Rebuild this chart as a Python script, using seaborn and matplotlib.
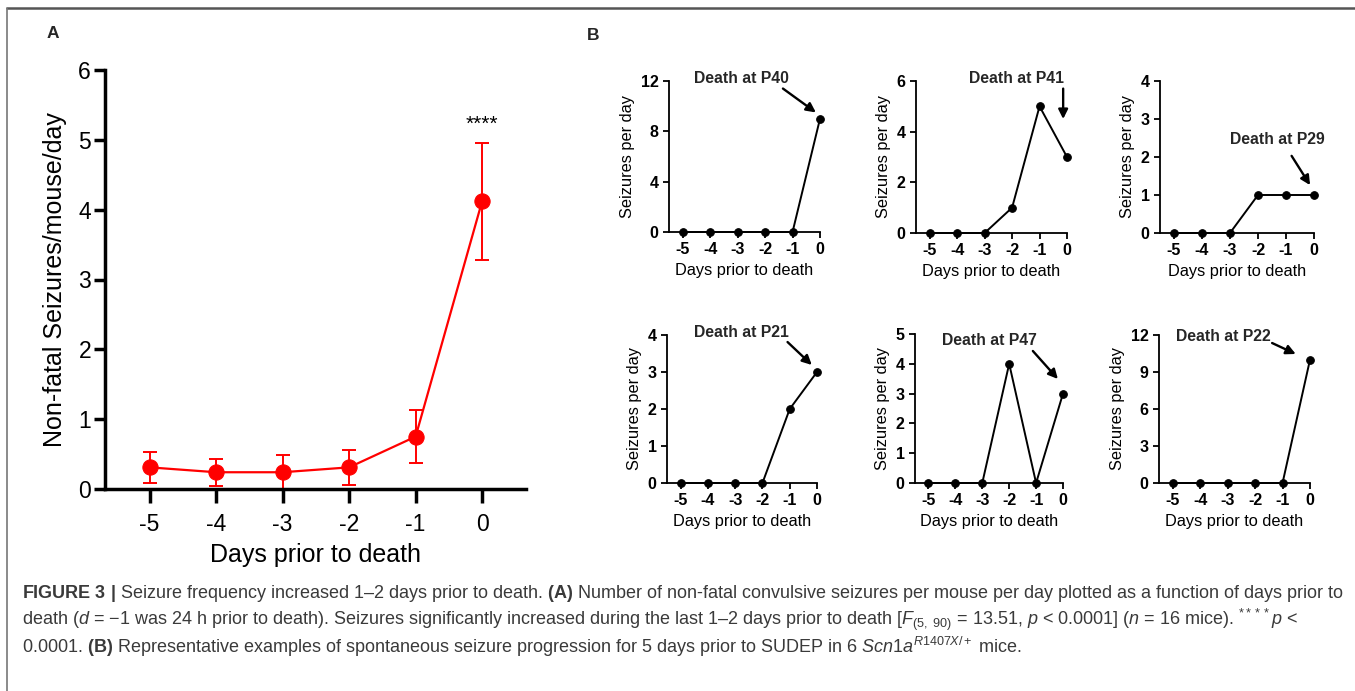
import matplotlib
matplotlib.use("Agg")
import matplotlib.pyplot as plt
from matplotlib.lines import Line2D
import seaborn as sns
import pandas as pd

# ---------------- data ----------------
days = [-5, -4, -3, -2, -1, 0]
day_labels = ["-5", "-4", "-3", "-2", "-1", "0"]

mean_seizures = [0.31, 0.24, 0.24, 0.31, 0.75, 4.12]
sem_seizures = [0.22, 0.19, 0.25, 0.25, 0.38, 0.84]
yticks_a = [0, 1, 2, 3, 4, 5, 6]

mice_names = ["P40", "P41", "P29", "P21", "P47", "P22"]
mouse_P40 = [0, 0, 0, 0, 0, 9]
mouse_P41 = [0, 0, 0, 1, 5, 3]
mouse_P29 = [0, 0, 0, 1, 1, 1]
mouse_P21 = [0, 0, 0, 0, 2, 3]
mouse_P47 = [0, 0, 0, 4, 0, 3]
mouse_P22 = [0, 0, 0, 0, 0, 10]
mouse_series = [mouse_P40, mouse_P41, mouse_P29, mouse_P21, mouse_P47, mouse_P22]
mouse_yticks = [[0, 4, 8, 12], [0, 2, 4, 6], [0, 1, 2, 3, 4],
                [0, 1, 2, 3, 4], [0, 1, 2, 3, 4, 5], [0, 3, 6, 9, 12]]

# ---------------- style ----------------
sns.set_theme(style="ticks")
plt.rcParams["font.family"] = ["Liberation Sans", "DejaVu Sans"]
plt.rcParams["mathtext.fontset"] = "custom"
plt.rcParams["mathtext.rm"] = "Liberation Sans"
plt.rcParams["mathtext.it"] = "Liberation Sans:italic"
plt.rcParams["mathtext.bf"] = "Liberation Sans:bold"
plt.rcParams["axes.unicode_minus"] = False

W, H = 1355, 691
fig = plt.figure(figsize=(W / 100, H / 100), dpi=100)
fig.patch.set_facecolor("white")


def px_axes(l, t, r, b):
    return fig.add_axes([l / W, 1 - b / H, (r - l) / W, (b - t) / H])


# ---------------- panel A ----------------
axA = px_axes(105, 70, 526, 489)
dfA = pd.DataFrame({"day": days, "mean": mean_seizures})
sns.lineplot(data=dfA, x="day", y="mean", ax=axA, color="#ff0000", lw=1.6,
             marker="o", markersize=11, markeredgecolor="#ff0000", zorder=3)
axA.errorbar(days, mean_seizures, yerr=sem_seizures, fmt="none", ecolor="#ff0000",
             elinewidth=1.4, capsize=5, capthick=1.4, zorder=2)
axA.set_xlim(-5.67, 0.66)
axA.set_ylim(0, 6)
axA.set_xticks(days)
axA.set_xticklabels(day_labels)
axA.set_yticks(yticks_a)
axA.tick_params(axis="both", labelsize=16.5, width=2.5, length=8, color="black", labelcolor="black")
axA.tick_params(axis="x", pad=7, length=10)
axA.tick_params(axis="y", pad=2)
for s in ["top", "right"]:
    axA.spines[s].set_visible(False)
for s in ["left", "bottom"]:
    axA.spines[s].set_linewidth(2.5)
    axA.spines[s].set_color("black")
axA.set_xlabel("Days prior to death", fontsize=18, labelpad=5, color="black")
axA.set_ylabel("Non-fatal Seizures/mouse/day", fontsize=18, labelpad=8, color="black")
axA.text(days[-1], 5.22, "****", ha="center", va="center", fontsize=15, color="black")

fig.text(53 / W, 1 - 33 / H, "A", fontsize=12.5, fontweight="bold", ha="center", va="center")
fig.text(593 / W, 1 - 35 / H, "B", fontsize=12.5, fontweight="bold", ha="center", va="center")

# ---------------- panel B ----------------
boxes = [(669, 81, 820, 232), (916, 81, 1067, 233), (1160, 81, 1314, 233),
         (667, 335, 817, 483), (915, 334, 1063, 483), (1159, 335, 1310, 483)]
text_pos = [(-2.85, 12.2), (-1.85, 6.1), (-1.3, 2.47), (-2.76, 4.08), (-2.72, 4.77), (-3.17, 11.84)]
arrows = [((-1.35, 11.4), (-0.15, 9.5)), ((-0.14, 5.7), (-0.14, 4.5)), ((-0.8, 2.03), (-0.14, 1.26)),
          ((-1.08, 3.81), (-0.19, 3.19)), ((-1.12, 4.43), (-0.19, 3.49)), ((-1.38, 11.35), (-0.52, 10.46))]

for i, box in enumerate(boxes):
    ax = px_axes(*box)
    df = pd.DataFrame({"day": days, "n": mouse_series[i]})
    sns.lineplot(data=df, x="day", y="n", ax=ax, color="black", lw=1.4,
                 marker="o", markersize=5.5, markeredgecolor="black", zorder=3, clip_on=False)
    yt = mouse_yticks[i]
    ax.set_xlim(-5.5, 0)
    ax.set_ylim(0, yt[-1])
    ax.set_xticks(days)
    ax.set_xticklabels(day_labels)
    ax.set_yticks(yt)
    ax.set_yticklabels([str(v) for v in yt])
    ax.tick_params(axis="both", labelsize=11.5, width=1.3, length=4.5, color="black",
                   labelcolor="black", pad=3)
    for lab in ax.get_xticklabels() + ax.get_yticklabels():
        lab.set_fontweight("bold")
    for s in ["top", "right"]:
        ax.spines[s].set_visible(False)
    for s in ["left", "bottom"]:
        ax.spines[s].set_linewidth(1.3)
        ax.spines[s].set_color("black")
    ax.set_xlabel("Days prior to death", fontsize=11.8, labelpad=4, color="black")
    ax.set_ylabel("Seizures per day", fontsize=11.8, labelpad=4, color="black")
    tx, ty = text_pos[i]
    ax.text(tx, ty, "Death at " + mice_names[i], fontsize=11.3, fontweight="bold",
            ha="center", va="center", clip_on=False)
    (sx, sy), (ex, ey) = arrows[i]
    ax.annotate("", xy=(ex, ey), xytext=(sx, sy), annotation_clip=False,
                arrowprops=dict(arrowstyle="-|>", color="black", lw=1.7, mutation_scale=14,
                                shrinkA=0, shrinkB=0))

# ---------------- frame ----------------
fig.add_artist(Line2D([7 / W, 1], [1 - 8 / H, 1 - 8 / H], transform=fig.transFigure,
                      color="#555555", lw=1.8))
fig.add_artist(Line2D([7 / W, 7 / W], [0, 1 - 8 / H], transform=fig.transFigure,
                      color="#777777", lw=1.2))

# ---------------- caption ----------------
cap_color = "#3a3a3a"
cap1 = (r"$\mathbf{FIGURE\ 3\ |}$ Seizure frequency increased 1–2 days prior to death. "
        r"$\mathbf{(A)}$ Number of non-fatal convulsive seizures per mouse per day plotted as a function of days prior to")
cap2 = (r"death ($d$ = −1 was 24 h prior to death). Seizures significantly increased during the last 1–2 days prior to death "
        r"[$F_{(5,\ 90)}$ = 13.51, $p$ < 0.0001] ($n$ = 16 mice). $^{****}p$ <")
cap3 = (r"0.0001. $\mathbf{(B)}$ Representative examples of spontaneous seizure progression for 5 days prior to SUDEP in 6 "
        r"$Scn1a^{R1407X/+}$ mice.")
for txt, y in [(cap1, 593), (cap2, 620), (cap3, 647)]:
    fig.text(22 / W, 1 - y / H, txt, fontsize=13, color=cap_color, ha="left", va="center")

fig.savefig("out.png", dpi=100)
